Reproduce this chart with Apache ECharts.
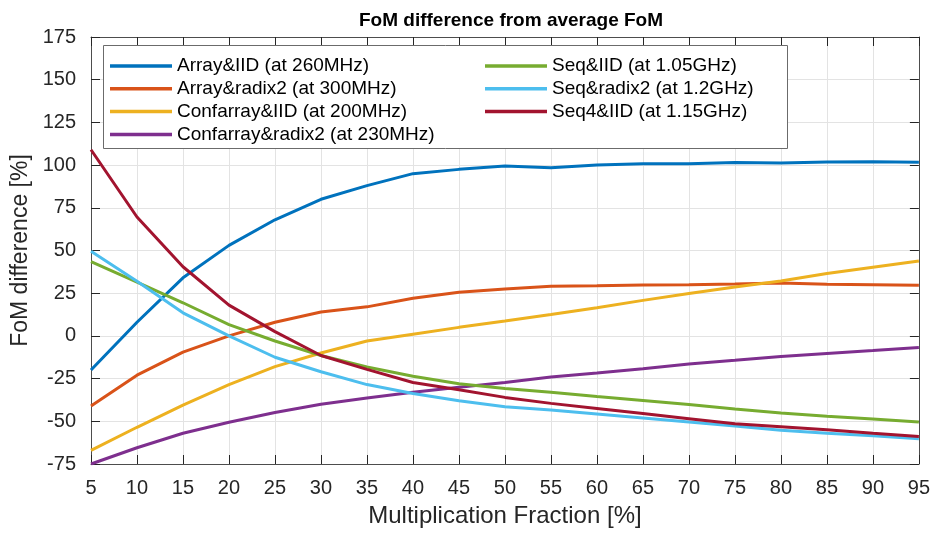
<!DOCTYPE html>
<html>
<head>
<meta charset="utf-8">
<script src="https://cdn.jsdelivr.net/npm/echarts@6/dist/echarts.min.js"></script>
<style>html,body{margin:0;padding:0;background:#fff}#c{width:933px;height:533px}</style>
</head>
<body>
<div id="c"></div>
<script>
var fractions = [5,10,15,20,25,30,35,40,45,50,55,60,65,70,75,80,85,90,95];
var arrayIID      = [-20, 8, 34, 53, 68, 80, 88, 95, 97.5, 99.5, 98.5, 100, 100.8, 100.8, 101.5, 101.2, 101.8, 102, 101.6];
var arrayRadix2   = [-41, -23, -9.5, 0, 8, 14, 17, 22, 25.5, 27.5, 29, 29.3, 29.8, 30, 30.4, 31, 30.2, 30, 29.7];
var confIID       = [-67, -53.5, -40.5, -28.5, -18, -10, -3, 1, 5, 8.7, 12.5, 16.5, 20.8, 24.8, 28.6, 32.2, 36.5, 40.2, 43.8];
var confRadix2    = [-75, -65.5, -57, -50.6, -44.8, -40, -36.4, -33, -30, -27.3, -24, -21.7, -19.2, -16.5, -14.3, -12, -10.3, -8.6, -6.8];
var seqIID        = [43.5, 31.5, 19.4, 6.6, -3, -11.5, -18.2, -23.6, -28, -30.8, -33, -35.5, -37.8, -40.2, -42.8, -45.2, -47, -48.6, -50.4];
var seqRadix2     = [49.5, 32, 13.5, 0, -12.5, -21, -28.5, -33.7, -38, -41.5, -43.4, -45.7, -48, -50.4, -52.8, -55.2, -57, -58.5, -60.2];
var seq4IID       = [109, 69.6, 40.5, 18, 2.5, -11.5, -19.6, -27.3, -31.5, -36, -39.5, -42.5, -45.5, -48.5, -51.5, -53.2, -55, -57, -58.9];
var yTicks = [-75, -50, -25, 0, 25, 50, 75, 100, 125, 150, 175];

var names = [
  'Array&IID (at 260MHz)', 'Array&radix2 (at 300MHz)', 'Confarray&IID (at 200MHz)', 'Confarray&radix2 (at 230MHz)',
  'Seq&IID (at 1.05GHz)', 'Seq&radix2 (at 1.2GHz)', 'Seq4&IID (at 1.15GHz)'
];
var values = [arrayIID, arrayRadix2, confIID, confRadix2, seqIID, seqRadix2, seq4IID];
var colors = ['#0072BD', '#D95319', '#EDB120', '#7E2F8E', '#77AC30', '#4DBEEE', '#A2142F'];

var FONT = '"Liberation Sans", Arial, Helvetica, sans-serif';
var axisCol = '#4d4d4d';

var series = names.map(function (n, i) {
  return {
    name: n, type: 'line', xAxisIndex: 0, yAxisIndex: 0,
    data: fractions.map(function (x, j) { return [x, values[i][j]]; }),
    showSymbol: false, symbol: 'none',
    lineStyle: { color: colors[i], width: 3 },
    itemStyle: { color: colors[i] },
    z: 3
  };
});

function xAx(pos, show) {
  return {
    type: 'value', position: pos, min: 5, max: 95, interval: 5,
    axisLine: { show: true, onZero: false, lineStyle: { color: axisCol, width: 1 } },
    axisTick: { show: true, inside: true, length: 9, lineStyle: { color: '#262626' } },
    axisLabel: { show: show, fontFamily: FONT, fontSize: 20, color: '#262626', margin: 14 },
    splitLine: { show: show, lineStyle: { color: '#e3e3e3', width: 1 } },
    name: show ? 'Multiplication Fraction [%]' : '', nameLocation: 'middle', nameGap: 40,
    nameTextStyle: { fontFamily: FONT, fontSize: 24, color: '#262626' }
  };
}
function yAx(pos, show) {
  return {
    type: 'value', position: pos, min: -75, max: 175, interval: 25,
    axisLine: { show: true, onZero: false, lineStyle: { color: axisCol, width: 1 } },
    axisTick: { show: true, inside: true, length: 9, lineStyle: { color: '#262626' } },
    axisLabel: { show: show, fontFamily: FONT, fontSize: 20, color: '#262626', margin: 15,
      formatter: function (v) { return yTicks.indexOf(v) >= 0 ? String(v) : ''; } },
    splitLine: { show: show, lineStyle: { color: '#e3e3e3', width: 1 } },
    name: show ? 'FoM difference [%]' : '', nameLocation: 'middle', nameGap: 57,
    nameTextStyle: { fontFamily: FONT, fontSize: 23, color: '#262626' }
  };
}

var legendCommon = {
  orient: 'vertical', icon: 'rect', itemWidth: 62, itemHeight: 3.5, itemGap: 3.8, padding: 0,
  textStyle: { fontFamily: FONT, fontSize: 19, color: '#000' }, selectedMode: false
};

var chart = echarts.init(document.getElementById('c'), null, { renderer: 'canvas' });
chart.setOption({
  animation: false,
  backgroundColor: '#fff',
  title: {
    text: 'FoM difference from average FoM', left: 506, top: 6, textAlign: 'center',
    textStyle: { fontFamily: FONT, fontSize: 19, fontWeight: 'bold', color: '#000' }
  },
  grid: { left: 91, right: 11, top: 37, bottom: 66 },
  xAxis: [xAx('bottom', true), xAx('top', false)],
  yAxis: [yAx('left', true), yAx('right', false)],
  legend: [
    Object.assign({ left: 110, top: 56.5, data: names.slice(0, 4) }, legendCommon),
    Object.assign({ left: 485, top: 56.5, data: names.slice(4) }, legendCommon)
  ],
  graphic: [{
    type: 'rect', z: 1, left: 103, top: 45,
    shape: { width: 684, height: 103 },
    style: { fill: '#fff', stroke: '#6b6b6b', lineWidth: 1 }
  }],
  series: series
});
</script>
</body>
</html>
